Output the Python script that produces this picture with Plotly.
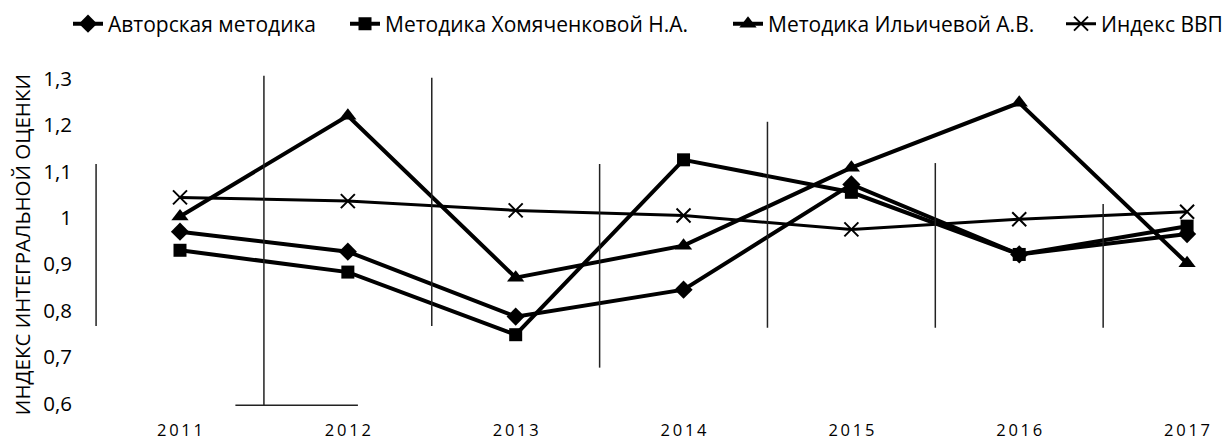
import plotly.graph_objects as go

years = [2011, 2012, 2013, 2014, 2015, 2016, 2017]
year_labels = ["2011", "2012", "2013", "2014", "2015", "2016", "2017"]

avtor = [0.970, 0.927, 0.787, 0.845, 1.072, 0.921, 0.965]
khom = [0.930, 0.883, 0.748, 1.125, 1.055, 0.921, 0.982]
ilich = [1.003, 1.220, 0.871, 0.940, 1.108, 1.248, 0.902]
vvp = [1.044, 1.036, 1.016, 1.005, 0.975, 0.997, 1.013]

series_names = ["Авторская методика", "Методика Хомяченковой Н.А.",
                "Методика Ильичевой А.В.", "Индекс ВВП"]

y_title = "ИНДЕКС ИНТЕГРАЛЬНОЙ ОЦЕНКИ"
y_ticks = [0.6, 0.7, 0.8, 0.9, 1.0, 1.1, 1.2, 1.3]

FONT = "Open Sans"
W, H = 1227, 441
ML, MR, MT, MB = 85, 27, 74, 33

fig = go.Figure()
fig.add_trace(go.Scatter(x=years, y=avtor, name=series_names[0], mode="lines+markers",
                         legend="legend",
                         line=dict(color="black", width=4),
                         marker=dict(symbol="diamond", size=14, color="black")))
fig.add_trace(go.Scatter(x=years, y=khom, name=series_names[1], mode="lines+markers",
                         legend="legend2",
                         line=dict(color="black", width=4),
                         marker=dict(symbol="square", size=13, color="black")))
fig.add_trace(go.Scatter(x=years, y=ilich, name=series_names[2], mode="lines+markers",
                         legend="legend3",
                         line=dict(color="black", width=4),
                         marker=dict(symbol="triangle-up", size=15, color="black")))
fig.add_trace(go.Scatter(x=years, y=vvp, name=series_names[3], mode="lines+markers",
                         legend="legend4",
                         line=dict(color="black", width=3),
                         marker=dict(symbol="x-thin", size=14,
                                     line=dict(color="black", width=2), color="black")))

# scan-artifact partial vertical rules seen in the reference (x0, y0, y1)
artifacts = [(2010.5, 0.767, 1.116), (2011.5, 0.596, 1.306), (2012.5, 0.767, 1.302),
             (2013.5, 0.677, 1.116), (2014.5, 0.763, 1.207), (2015.5, 0.763, 1.118),
             (2016.5, 0.763, 1.030)]
for xa, ya0, ya1 in artifacts:
    fig.add_shape(type="line", xref="x", yref="y", x0=xa, x1=xa, y0=ya0, y1=ya1,
                  line=dict(color="#222222", width=1.5))
fig.add_shape(type="line", xref="x", yref="y", x0=2011.33, x1=2012.06, y0=0.596, y1=0.596,
              line=dict(color="#222222", width=1.5))

spaced = ["\u2009".join(list(s)) for s in year_labels]

# legend text left edges (pixels) in the reference
legend_text_x = [110, 387, 770, 1103]
legend_common = dict(orientation="h", xref="container", yref="container",
                     xanchor="left", yanchor="middle", y=1 - 24 / H,
                     font=dict(size=21, family=FONT, color="black"),
                     bgcolor="rgba(0,0,0,0)", borderwidth=0)
legends = {}
for i, tx in enumerate(legend_text_x):
    key = "legend" if i == 0 else f"legend{i + 1}"
    legends[key] = dict(legend_common, x=(tx - 42) / W)

plot_w = W - ML - MR
fig.add_annotation(text=y_title, xref="paper", yref="paper",
                   x=(22 - ML) / plot_w, y=0.5 + (240.8 - 245) / (H - MT - MB),
                   xanchor="center", yanchor="middle", textangle=-90, showarrow=False,
                   font=dict(size=20.5, family=FONT, color="black"))

fig.update_layout(
    width=W, height=H,
    paper_bgcolor="white", plot_bgcolor="white",
    separators=", ",
    margin=dict(l=ML, r=MR, t=MT, b=MB, autoexpand=False),
    font=dict(family=FONT, color="black"),
    showlegend=True,
    **legends,
    xaxis=dict(range=[2010.434, 2017.077], tickmode="array", tickvals=years, ticktext=spaced,
               showgrid=False, zeroline=False, showline=False, ticks="", automargin=False,
               tickfont=dict(size=16.5, family=FONT), ticklabelstandoff=10),
    yaxis=dict(range=[0.59, 1.31], tickmode="array", tickvals=y_ticks,
               showgrid=False, zeroline=False, showline=False, ticks="", automargin=False,
               tickfont=dict(size=20.5, family=FONT), ticklabelstandoff=12),
)

fig.write_html("out.html", config={"displayModeBar": False},
               post_script="document.body.style.margin='0';document.body.style.padding='0';")
